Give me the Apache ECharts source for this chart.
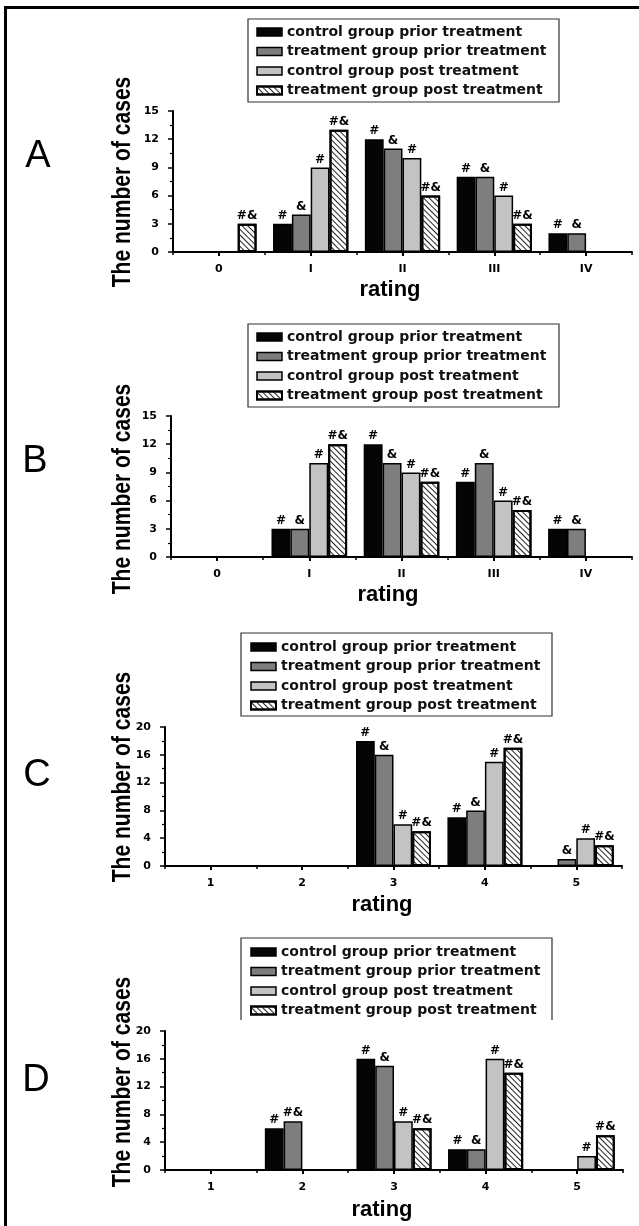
<!DOCTYPE html>
<html><head><meta charset="utf-8">
<script src="https://cdn.jsdelivr.net/npm/echarts@6/dist/echarts.min.js"></script>
<style>html,body{margin:0;padding:0;background:#fff}#c{width:639px;height:1226px}</style>
</head><body><div id="c"></div>
<script>
// ---------- data ----------
const seriesNames = ['control group prior treatment','treatment group prior treatment','control group post treatment','treatment group post treatment'];
const ratingsAB = ['0','I','II','III','IV'];
const ratingsCD = ['1','2','3','4','5'];
const yMaxAB = 15, yIntAB = 3;
const yMaxCD = 20, yIntCD = 4;

// Panel A
const aCtrlPrior = [null, 3, 12, 8, 2];
const aTrtPrior  = [null, 4, 11, 8, 2];
const aCtrlPost  = [null, 9, 10, 6, null];
const aTrtPost   = [3, 13, 6, 3, null];
const aMarks = [['', '#','#','#','#'], ['', '&','&','&','&'], ['', '#','#','#',''], ['#&','#&','#&','#&','']];

// Panel B
const bCtrlPrior = [null, 3, 12, 8, 3];
const bTrtPrior  = [null, 3, 10, 10, 3];
const bCtrlPost  = [null, 10, 9, 6, null];
const bTrtPost   = [null, 12, 8, 5, null];
const bMarks = [['', '#','#','#','#'], ['', '&','&','&','&'], ['', '#','#','#',''], ['', '#&','#&','#&','']];

// Panel C
const cCtrlPrior = [null, null, 18, 7, null];
const cTrtPrior  = [null, null, 16, 8, 1];
const cCtrlPost  = [null, null, 6, 15, 4];
const cTrtPost   = [null, null, 5, 17, 3];
const cMarks = [['', '', '#','#',''], ['', '', '&','&','&'], ['', '', '#','#','#'], ['', '', '#&','#&','#&']];

// Panel D
const dCtrlPrior = [null, 6, 16, 3, null];
const dTrtPrior  = [null, 7, 15, 3, null];
const dCtrlPost  = [null, null, 7, 16, 2];
const dTrtPost   = [null, null, 6, 14, 5];
const dMarks = [['', '#','#','#',''], ['', '#&','&','&',''], ['', '', '#','#','#'], ['', '', '#&','#&','#&']];

// ---------- layout ----------
const panels = [
  {letter:'A', cats:ratingsAB, data:[aCtrlPrior,aTrtPrior,aCtrlPost,aTrtPost], marks:aMarks, yMax:yMaxAB, yInt:yIntAB,
   grid:{left:173, top:111, width:459, height:141}, legend:{left:256, top:24}, box:[248,19,311,83], boxBottom:true,
   letterPos:[38,157], ytitle:[123,182], rating:[390,290]},
  {letter:'B', cats:ratingsAB, data:[bCtrlPrior,bTrtPrior,bCtrlPost,bTrtPost], marks:bMarks, yMax:yMaxAB, yInt:yIntAB,
   grid:{left:171, top:416, width:461, height:141}, legend:{left:256, top:329}, box:[248,324,311,83], boxBottom:true,
   letterPos:[35,462], ytitle:[123,489], rating:[388,595]},
  {letter:'C', cats:ratingsCD, data:[cCtrlPrior,cTrtPrior,cCtrlPost,cTrtPost], marks:cMarks, yMax:yMaxCD, yInt:yIntCD,
   grid:{left:165, top:727, width:457, height:139}, legend:{left:250, top:639}, box:[241,633,311,83], boxBottom:true,
   letterPos:[37,776], ytitle:[123,777], rating:[382,905]},
  {letter:'D', cats:ratingsCD, data:[dCtrlPrior,dTrtPrior,dCtrlPost,dTrtPost], marks:dMarks, yMax:yMaxCD, yInt:yIntCD,
   grid:{left:165, top:1031, width:458, height:139}, legend:{left:250, top:944}, box:[241,938,311,82], boxBottom:false,
   letterPos:[36,1081], ytitle:[123,1082], rating:[382,1210]}
];

const hatchDecal = {symbol:'rect', symbolSize:1, color:'#222', dashArrayX:[1,0], dashArrayY:[1,3], rotation:Math.PI/4};
const styles = [
  {color:'#050505', borderColor:'#000', borderWidth:1.5},
  {color:'#7e7e7e', borderColor:'#000', borderWidth:1.5},
  {color:'#c3c3c3', borderColor:'#000', borderWidth:1.5},
  {color:'#ffffff', borderColor:'#000', borderWidth:2, decal:hatchDecal}
];
const boldFont = {fontFamily:'DejaVu Sans', fontWeight:'bold', color:'#000'};

const grids=[], xAxes=[], yAxes=[], series=[], legends=[], graphics=[];
graphics.push({type:'rect', shape:{x:4, y:6, width:3, height:1220}, style:{fill:'#000'}});
graphics.push({type:'rect', shape:{x:4, y:6, width:635, height:3}, style:{fill:'#000'}});

panels.forEach((p,i)=>{
  grids.push({left:p.grid.left, top:p.grid.top, width:p.grid.width, height:p.grid.height});
  xAxes.push({type:'category', gridIndex:i, data:p.cats, boundaryGap:true,
    axisLine:{show:true, lineStyle:{color:'#000', width:2}},
    axisTick:{show:true, alignWithLabel:true, length:4, lineStyle:{color:'#000', width:2}},
    axisLabel:Object.assign({margin:12, fontSize:11}, boldFont), splitLine:{show:false}});
  xAxes.push({type:'category', gridIndex:i, data:p.cats, boundaryGap:true, position:'bottom',
    axisLine:{show:false}, axisTick:{show:true, length:3, lineStyle:{color:'#000', width:1.5}},
    axisLabel:{show:false}, splitLine:{show:false}});
  yAxes.push({type:'value', gridIndex:i, min:0, max:p.yMax, interval:p.yInt,
    axisLine:{show:true, lineStyle:{color:'#000', width:2}},
    axisTick:{show:true, length:5, lineStyle:{color:'#000', width:1.5}},
    minorTick:{show:true, splitNumber:2, length:3, lineStyle:{color:'#000', width:1.2}},
    splitLine:{show:false},
    axisLabel:Object.assign({margin:14, fontSize:11}, boldFont)});
  p.data.forEach((d,k)=>{
    series.push({type:'bar', name:seriesNames[k], xAxisIndex:2*i, yAxisIndex:i, data:d,
      barGap:'0%', barCategoryGap:'18%', itemStyle:styles[k],
      label:Object.assign({show:true, position:'top', distance:2, fontSize:12,
        formatter:(prm)=>p.marks[k][prm.dataIndex]||''}, boldFont),
      emphasis:{disabled:true}, animation:false});
  });
  legends.push({orient:'vertical', left:p.legend.left, top:p.legend.top, padding:0,
    itemWidth:25, itemHeight:8, itemGap:3.5, icon:'rect', selectedMode:false,
    textStyle:{fontFamily:'DejaVu Sans', fontWeight:'bold', fontSize:14, lineHeight:16, color:'#111'},
    data:seriesNames.map((n,k)=>({name:n, itemStyle:styles[k]}))});
  const b=p.box;
  if (p.boxBottom) {
    graphics.push({type:'rect', shape:{x:b[0], y:b[1], width:b[2], height:b[3]}, style:{fill:'none', stroke:'#333', lineWidth:1.2}});
  } else {
    graphics.push({type:'polyline', shape:{points:[[b[0],b[1]+b[3]],[b[0],b[1]],[b[0]+b[2],b[1]],[b[0]+b[2],b[1]+b[3]]]}, style:{fill:'none', stroke:'#333', lineWidth:1.2}});
  }
  graphics.push({type:'text', x:p.letterPos[0], y:p.letterPos[1],
    style:{text:p.letter, font:'38px "Liberation Sans"', fill:'#000', textAlign:'center', textVerticalAlign:'middle'}});
  graphics.push({type:'text', x:p.ytitle[0], y:p.ytitle[1], rotation:Math.PI/2, scaleX:0.81,
    style:{text:'The number of cases', font:'bold 26px "Liberation Sans"', fill:'#000', textAlign:'center', textVerticalAlign:'middle'}});
  graphics.push({type:'text', x:p.rating[0], y:p.rating[1],
    style:{text:'rating', font:'bold 22px "Liberation Sans"', fill:'#000', textAlign:'center', textVerticalAlign:'middle'}});
});

const chart = echarts.init(document.getElementById('c'), null, {renderer:'canvas'});
chart.setOption({backgroundColor:'#fff', animation:false, grid:grids, xAxis:xAxes, yAxis:yAxes, series:series, legend:legends, graphic:graphics});
</script></body></html>
